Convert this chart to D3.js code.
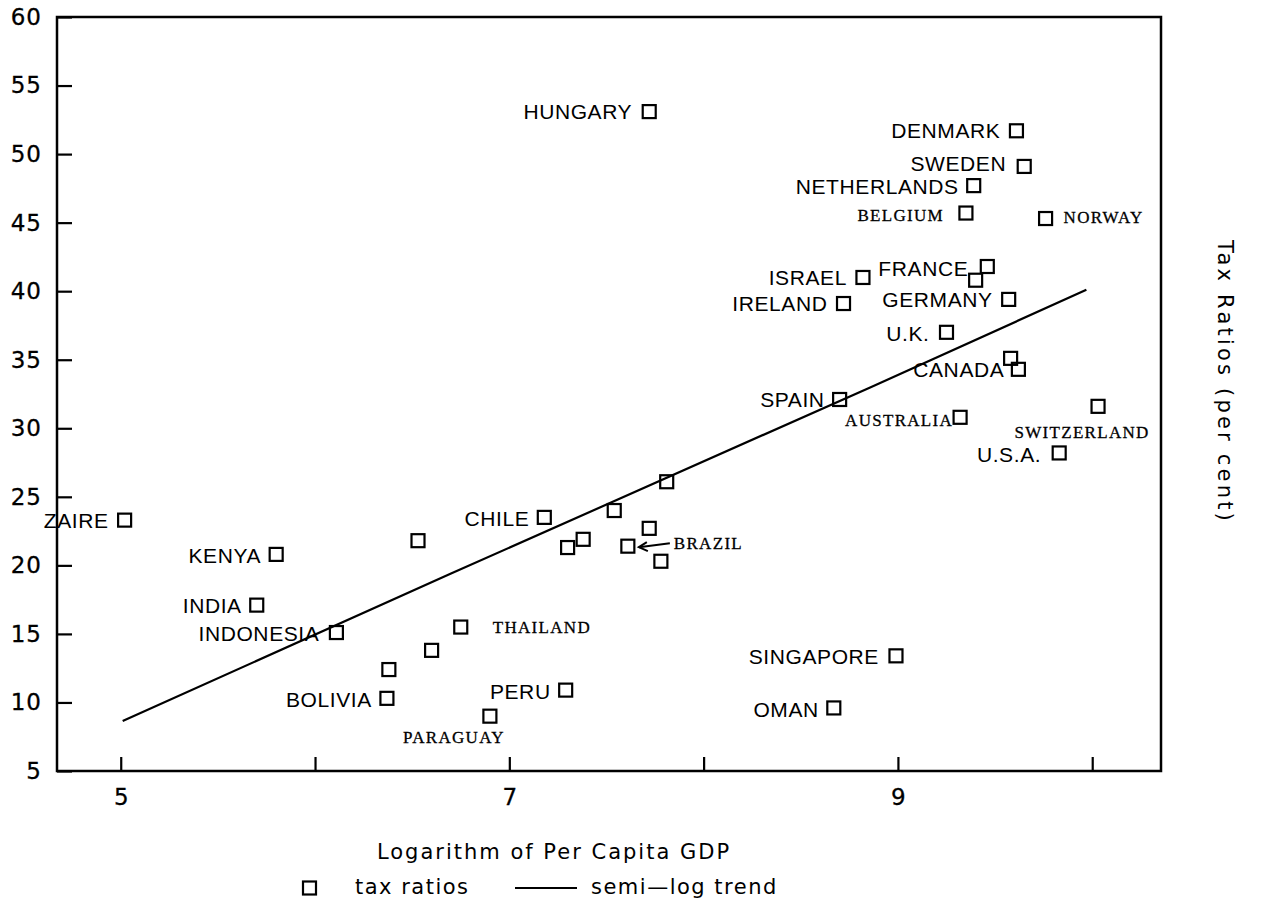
<!DOCTYPE html>
<html>
<head>
<meta charset="utf-8">
<script src="https://cdn.jsdelivr.net/npm/d3@7"></script>
<style>
  body { margin: 0; background: #fff; }
  text { fill: #000; }
</style>
</head>
<body>
<script>
// Tax ratios vs log of per capita GDP
var countries = ["HUNGARY", "DENMARK", "SWEDEN", "NETHERLANDS", "BELGIUM", "NORWAY", "ISRAEL", "FRANCE", "",
  "IRELAND", "GERMANY", "U.K.", "", "CANADA", "SPAIN", "AUSTRALIA", "SWITZERLAND", "U.S.A.",
  "", "", "CHILE", "", "", "", "BRAZIL", "", "ZAIRE", "KENYA", "", "INDIA", "INDONESIA", "THAILAND",
  "", "", "BOLIVIA", "PERU", "PARAGUAY", "SINGAPORE", "OMAN"];
var logGdp = [7.72, 9.61, 9.65, 9.39, 9.35, 9.76, 8.82, 9.46, 9.40,
  8.72, 9.57, 9.25, 9.58, 9.62, 8.70, 9.32, 10.03, 9.83,
  7.81, 7.54, 7.18, 7.72, 7.38, 7.30, 7.61, 7.78, 5.02, 5.80, 6.53, 5.70, 6.11, 6.75,
  6.60, 6.38, 6.37, 7.29, 6.90, 8.99, 8.67];
var taxRatio = [53.1, 51.7, 49.1, 47.7, 45.7, 45.3, 41.0, 41.8, 40.8,
  39.1, 39.4, 37.0, 35.1, 34.3, 32.1, 30.8, 31.6, 28.2,
  26.1, 24.0, 23.5, 22.7, 21.9, 21.3, 21.4, 20.3, 23.3, 20.8, 21.8, 17.1, 15.1, 15.5,
  13.8, 12.4, 10.3, 10.9, 9.0, 13.4, 9.6];

// semi-log trend line
var trendX = [5.01, 6.70, 8.86, 9.97];
var trendY = [8.65, 19.4, 33.0, 40.1];

var yTicks = [5, 10, 15, 20, 25, 30, 35, 40, 45, 50, 55, 60];
var xTicks = [5, 6, 7, 8, 9, 10];
var xTickLabels = { 5: "5", 7: "7", 9: "9" };

// Label placement: anchor, dx, dy (from the marker centre)
var labelPos = {
  "HUNGARY": ["end", -17, 0], "DENMARK": ["end", -16, 0], "SWEDEN": ["end", -18, -3],
  "NETHERLANDS": ["end", -15, 1], "BELGIUM": ["end", -22, 2], "NORWAY": ["start", 18, -2],
  "ISRAEL": ["end", -16, 0], "FRANCE": ["end", -19, 2], "IRELAND": ["end", -16, 0],
  "GERMANY": ["end", -16, 0], "U.K.": ["end", -17, 1], "CANADA": ["end", -14, 0],
  "SPAIN": ["end", -15, 0], "AUSTRALIA": ["end", -7, 3], "SWITZERLAND": ["middle", -16, 26],
  "U.S.A.": ["end", -18, 1], "CHILE": ["end", -15, 1], "BRAZIL": ["start", 46, -3],
  "ZAIRE": ["end", -16, 0], "KENYA": ["end", -15, 1], "INDIA": ["end", -15, 0],
  "INDONESIA": ["end", -17, 1], "THAILAND": ["start", 32, 0], "BOLIVIA": ["end", -15, 1],
  "PERU": ["end", -15, 1], "PARAGUAY": ["middle", -36, 21], "SINGAPORE": ["end", -17, 1],
  "OMAN": ["end", -15, 2]
};
var serifLabels = ["BELGIUM", "NORWAY", "AUSTRALIA", "SWITZERLAND", "BRAZIL", "THAILAND", "PARAGUAY"];

var W = 1273, H = 907;
var plot = { left: 57, right: 1161, top: 17, bottom: 771 };

var x = d3.scaleLinear().domain([4.672, 10.354]).range([plot.left, plot.right]);
var y = d3.scaleLinear().domain([5, 60]).range([plot.bottom, plot.top]);

var svg = d3.select("body").append("svg")
    .attr("width", W)
    .attr("height", H);

var axisFont = "'DejaVu Sans', sans-serif";

// Y axis, ticks pointing inward
var yAxis = svg.append("g")
    .attr("transform", "translate(" + plot.left + ",0)")
    .call(d3.axisLeft(y).tickValues(yTicks).tickSize(-15).tickPadding(15).tickFormat(d3.format("d")));
yAxis.select(".domain").remove();
yAxis.selectAll(".tick line").attr("stroke", "#000").attr("stroke-width", 2.2);
yAxis.selectAll(".tick text")
    .attr("font-family", axisFont).attr("font-size", 23).attr("letter-spacing", 1)
    .attr("stroke", "#000").attr("stroke-width", 0.3);

// X axis
var xAxis = svg.append("g")
    .attr("transform", "translate(0," + plot.bottom + ")")
    .call(d3.axisBottom(x).tickValues(xTicks).tickSize(-14).tickPadding(18)
      .tickFormat(function (d) { return xTickLabels[d] || ""; }));
xAxis.select(".domain").remove();
xAxis.selectAll(".tick line").attr("stroke", "#000").attr("stroke-width", 2.2);
xAxis.selectAll(".tick text")
    .attr("font-family", axisFont).attr("font-size", 23)
    .attr("stroke", "#000").attr("stroke-width", 0.3);

// Frame
svg.append("rect")
    .attr("x", plot.left).attr("y", plot.top)
    .attr("width", plot.right - plot.left).attr("height", plot.bottom - plot.top)
    .attr("fill", "none").attr("stroke", "#000").attr("stroke-width", 2.5);

// Trend line
var line = d3.line()
    .x(function (d) { return x(d[0]); })
    .y(function (d) { return y(d[1]); });
svg.append("path")
    .datum(trendX.map(function (v, i) { return [v, trendY[i]]; }))
    .attr("d", line)
    .attr("fill", "none").attr("stroke", "#000").attr("stroke-width", 2.2);

// Points
var pts = countries.map(function (c, i) { return { name: c, gx: logGdp[i], ty: taxRatio[i] }; });
var sq = 13;
svg.append("g").selectAll("rect")
    .data(pts)
    .enter().append("rect")
      .attr("x", function (d) { return x(d.gx) - sq / 2; })
      .attr("y", function (d) { return y(d.ty) - sq / 2; })
      .attr("width", sq).attr("height", sq)
      .attr("fill", "none").attr("stroke", "#000").attr("stroke-width", 2.2);

// Labels
svg.append("g").selectAll("text")
    .data(pts.filter(function (d) { return d.name !== ""; }))
    .enter().append("text")
      .attr("x", function (d) { return x(d.gx) + labelPos[d.name][1]; })
      .attr("y", function (d) { return y(d.ty) + labelPos[d.name][2]; })
      .attr("dy", "0.36em")
      .attr("text-anchor", function (d) { return labelPos[d.name][0]; })
      .each(function (d) {
        var t = d3.select(this);
        if (serifLabels.indexOf(d.name) >= 0) {
          t.attr("font-family", "'Liberation Serif', serif").attr("font-size", 17)
           .attr("letter-spacing", 1.3).attr("stroke", "#000").attr("stroke-width", 0.3);
        } else {
          t.attr("font-family", "'Liberation Sans', Arial, sans-serif").attr("font-size", 21)
           .attr("letter-spacing", 0.6);
        }
      })
      .text(function (d) { return d.name; });

// Arrow to Brazil
var br = pts.filter(function (d) { return d.name === "BRAZIL"; })[0];
var bx = x(br.gx), by = y(br.ty);
svg.append("path")
    .attr("d", "M" + (bx + 42) + "," + (by - 3) + "L" + (bx + 11) + "," + (by + 1))
    .attr("stroke", "#000").attr("stroke-width", 2).attr("fill", "none");
svg.append("path")
    .attr("d", "M" + (bx + 19) + "," + (by - 4) + "L" + (bx + 11) + "," + (by + 1) + "L" + (bx + 20) + "," + (by + 5))
    .attr("stroke", "#000").attr("stroke-width", 2).attr("fill", "none");

// Axis titles
svg.append("text")
    .attr("x", 554).attr("y", 859)
    .attr("text-anchor", "middle")
    .attr("font-family", axisFont).attr("font-size", 21).attr("letter-spacing", 2)
    .text("Logarithm of Per Capita GDP");

svg.append("text")
    .attr("transform", "translate(1218,382) rotate(90)")
    .attr("text-anchor", "middle")
    .attr("font-family", axisFont).attr("font-size", 21).attr("letter-spacing", 3.2)
    .text("Tax Ratios (per cent)");

// Legend
var lg = svg.append("g").attr("transform", "translate(0,888)");
lg.append("rect")
    .attr("x", 303).attr("y", -6.5).attr("width", sq).attr("height", sq)
    .attr("fill", "none").attr("stroke", "#000").attr("stroke-width", 2.2);
lg.append("text")
    .attr("x", 355).attr("y", 0).attr("dy", "0.3em")
    .attr("font-family", axisFont).attr("font-size", 21).attr("letter-spacing", 1.5)
    .text("tax ratios");
lg.append("line")
    .attr("x1", 515).attr("x2", 577).attr("y1", 0).attr("y2", 0)
    .attr("stroke", "#000").attr("stroke-width", 2);
lg.append("text")
    .attr("x", 591).attr("y", 0).attr("dy", "0.3em")
    .attr("font-family", axisFont).attr("font-size", 21).attr("letter-spacing", 1.5)
    .text("semi\u2014log trend");
</script>
</body>
</html>
